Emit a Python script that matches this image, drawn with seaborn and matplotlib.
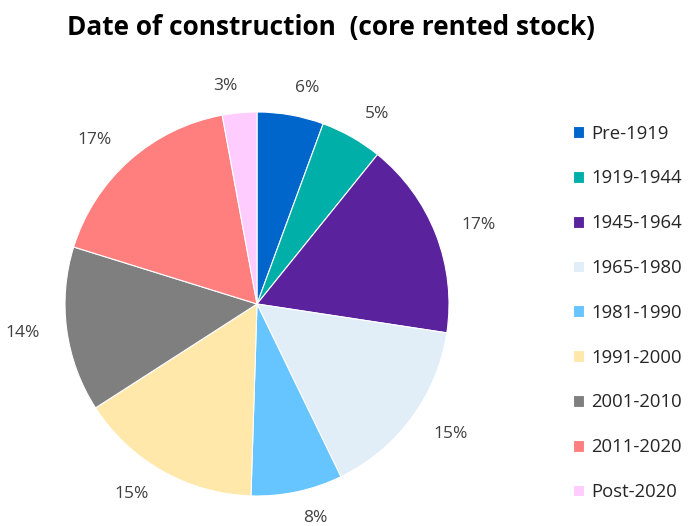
import matplotlib
matplotlib.use("Agg")
import matplotlib.pyplot as plt
import seaborn as sns

categories = ["Pre-1919", "1919-1944", "1945-1964", "1965-1980", "1981-1990",
              "1991-2000", "2001-2010", "2011-2020", "Post-2020"]
values = [5.6, 5.2, 16.6, 15.4, 7.7, 15.4, 13.9, 17.3, 2.9]
labels = ["6%", "5%", "17%", "15%", "8%", "15%", "14%", "17%", "3%"]
colors = ["#0066CC", "#00B0A8", "#5B229E", "#E1EEF8", "#66C4FF",
          "#FFE8AA", "#7F7F7F", "#FF7F7F", "#FFCCFF"]

sns.set_theme(style="white")
plt.rcParams["font.family"] = ["Open Sans", "DejaVu Sans"]

palette = sns.color_palette(colors)

fig = plt.figure(figsize=(6.89, 5.26), dpi=100)
ax = fig.add_axes([(257 - 192) / 689, (526 - 304 - 192) / 526, 384 / 689, 384 / 526])

wedges, texts = ax.pie(values, colors=palette, startangle=90, counterclock=False,
                       labels=labels, labeldistance=1.14,
                       wedgeprops=dict(edgecolor="white", linewidth=0.8),
                       textprops=dict(fontsize=12.5, color="#404040"))
ax.set_xlim(-1, 1)
ax.set_ylim(-1, 1)
ax.set_aspect("equal")
ax.axis("off")

fig.text(331 / 689, 1 - 27 / 526, "Date of construction  (core rented stock)",
         ha="center", va="center", fontsize=18.9, fontweight="bold", color="black")

leg = fig.legend(wedges, categories, loc="upper left",
                 bbox_to_anchor=(569 / 689, 1 - 121 / 526), frameon=False,
                 fontsize=13.3, handlelength=0.6, handleheight=0.6,
                 labelspacing=1.45, handletextpad=0.4, labelcolor="#262626",
                 borderaxespad=0, borderpad=0.2)

fig.savefig("out.png", dpi=100)
